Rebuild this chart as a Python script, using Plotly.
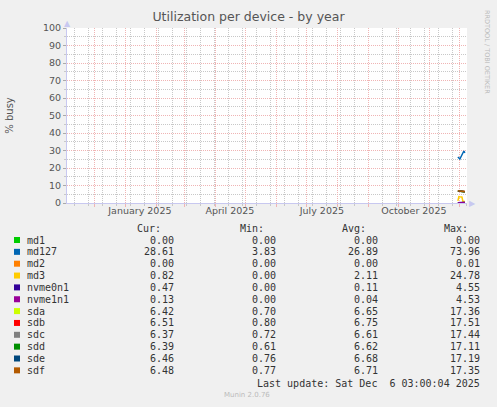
import plotly.graph_objects as go
import pandas as pd

# --- Data ---
dates = ["2025-11-29", "2025-11-30", "2025-12-01", "2025-12-02",
         "2025-12-03", "2025-12-04", "2025-12-05", "2025-12-06"]

devices = ["md1", "md127", "md2", "md3", "nvme0n1", "nvme1n1",
           "sda", "sdb", "sdc", "sdd", "sde", "sdf"]
colors = ["#00CC00", "#0066B3", "#FF8000", "#FFCC00", "#330099", "#990099",
          "#CCFF00", "#FF0000", "#808080", "#008F00", "#00487D", "#B35A00"]

md1 = [0.00, 0.00, 0.00, 0.00, 0.00, 0.00, 0.00, 0.00]
md127 = [26.3, 25.7, 25.1, 26.3, 27.4, 28.6, 29.7, 28.61]
md2 = [0.00, 0.00, 0.00, 0.00, 0.00, 0.00, 0.00, 0.00]
md3 = [1.2, 3.7, 3.6, 3.5, 3.5, 1.0, 0.8, 0.82]
nvme0n1 = [0.10, 0.10, 0.12, 0.10, 0.11, 0.20, 0.45, 0.47]
nvme1n1 = [0.04, 0.03, 0.04, 0.04, 0.05, 0.08, 0.12, 0.13]
sda = [6.9, 6.8, 6.7, 6.8, 6.6, 6.5, 6.4, 6.42]
sdb = [7.0, 6.9, 6.8, 6.8, 6.7, 6.6, 6.5, 6.51]
sdc = [6.9, 6.8, 6.7, 6.7, 6.6, 6.5, 6.4, 6.37]
sdd = [6.9, 6.8, 6.7, 6.7, 6.6, 6.5, 6.4, 6.39]
sde = [6.9, 6.8, 6.8, 6.7, 6.6, 6.5, 6.5, 6.46]
sdf = [7.0, 6.9, 6.8, 6.8, 6.6, 6.5, 6.5, 6.48]
series = [md1, md127, md2, md3, nvme0n1, nvme1n1, sda, sdb, sdc, sdd, sde, sdf]

# legend table values
cur = ["0.00", "28.61", "0.00", "0.82", "0.47", "0.13", "6.42", "6.51", "6.37", "6.39", "6.46", "6.48"]
mins = ["0.00", "3.83", "0.00", "0.00", "0.00", "0.00", "0.70", "0.80", "0.72", "0.61", "0.76", "0.77"]
avgs = ["0.00", "26.89", "0.00", "2.11", "0.11", "0.04", "6.65", "6.75", "6.61", "6.62", "6.68", "6.71"]
maxs = ["0.00", "73.96", "0.01", "24.78", "4.55", "4.53", "17.36", "17.51", "17.44", "17.11", "17.19", "17.35"]

x_start = "2024-11-03 03:00"
x_end = "2025-12-08 03:00"
month_starts = pd.date_range("2024-12-01", "2025-12-01", freq="MS")
label_dates = ["2025-01-15", "2025-04-15", "2025-07-16", "2025-10-16"]
label_text = ["January 2025", "April 2025", "July 2025", "October 2025"]

# --- Geometry (pixels) ---
W, H = 497, 407
L, R, T, B = 67, 467, 28, 203

def px(x):
    return (x - L) / (R - L)

def py(y):
    return (B - y) / (B - T)

MONO = "DejaVu Sans Mono"
SANS = "DejaVu Sans"
TXT = "#555555"
LEG = "#333333"
RED_GRID = "#F0B4B4"
GRAY_GRID = "#C8C8C8"
AXIS = "#C8C8F0"
DAY_MS = 86400000

fig = go.Figure()
for name, vals, col in zip(devices, series, colors):
    fig.add_trace(go.Scatter(x=dates, y=vals, mode="lines", name=name,
                             line=dict(color=col, width=1.5), showlegend=False))

# invisible traces so the overlay axes (month grid, month labels) get drawn
for ax in ["x2", "x3"]:
    fig.add_trace(go.Scatter(x=[x_start, x_end], y=[0, 0], xaxis=ax, mode="lines",
                             line=dict(width=0), hoverinfo="skip", showlegend=False))

fig.update_layout(
    width=W, height=H,
    margin=dict(l=L, r=W - R, t=T, b=H - B, autoexpand=False),
    paper_bgcolor="#F0F0F0",
    plot_bgcolor="white",
    font=dict(family=SANS, color=TXT, size=10),
    title=dict(text="Utilization per device - by year", x=0.5, xanchor="center",
               y=1 - 17 / H, yanchor="middle", font=dict(size=12.5, color=TXT)),
    # fortnightly gray grid
    xaxis=dict(
        type="date", range=[x_start, x_end], automargin=False,
        tick0="2024-11-11", dtick=14 * DAY_MS, showticklabels=False,
        showgrid=True, gridcolor=GRAY_GRID, griddash="1px,1px", gridwidth=1,
        ticks="outside", ticklen=2, tickcolor=GRAY_GRID,
        showline=True, linecolor=AXIS, linewidth=1, zeroline=False,
    ),
    # monthly red grid
    xaxis2=dict(
        type="date", range=[x_start, x_end], overlaying="x", anchor="y", side="bottom",
        automargin=False, tickmode="array", tickvals=month_starts, showticklabels=False,
        showgrid=True, gridcolor=RED_GRID, griddash="1px,1px", gridwidth=1,
        ticks="outside", ticklen=3, tickcolor=RED_GRID, showline=False, zeroline=False,
    ),
    # month labels
    xaxis3=dict(
        type="date", range=[x_start, x_end], overlaying="x", anchor="y", side="bottom",
        automargin=False, tickmode="array", tickvals=label_dates, ticktext=label_text,
        showgrid=False, ticks="", tickfont=dict(size=9.5, color=TXT, family=SANS),
        showline=False, zeroline=False,
    ),
    yaxis=dict(
        range=[0, 100], automargin=False, tickmode="array", tickvals=list(range(0, 101, 10)),
        showgrid=True, gridcolor=RED_GRID, griddash="1px,1px", gridwidth=1,
        ticks="outside", ticklen=3, tickcolor="#AAAAAA",
        tickfont=dict(size=9.5, color=TXT),
        minor=dict(dtick=5, showgrid=True, gridcolor=GRAY_GRID, griddash="1px,1px",
                   ticks="outside", ticklen=2, tickcolor=GRAY_GRID),
        showline=True, linecolor=AXIS, linewidth=1, zeroline=False,
        title=dict(text="% busy", font=dict(size=10, color=TXT), standoff=27),
    ),
)

ann = []
# axis arrows
ann.append(dict(x=px(L), y=py(T - 5), text="▲", showarrow=False,
                font=dict(size=8, color=AXIS), xanchor="center", yanchor="middle"))
ann.append(dict(x=px(R + 5), y=py(B), text="▶", showarrow=False,
                font=dict(size=8, color=AXIS), xanchor="center", yanchor="middle"))
# side watermark
ann.append(dict(x=px(487), y=py(52), text="RRDTOOL / TOBI OETIKER", textangle=90,
                showarrow=False, font=dict(size=6.5, color="#BBBBBB", family=SANS),
                xanchor="center", yanchor="middle"))

# legend table header
for txt, right in zip(["Cur:", "Min:", "Avg:", "Max:"], [163, 266, 368, 470]):
    ann.append(dict(x=px(right), y=py(228), text=txt, showarrow=False,
                    xanchor="right", yanchor="middle",
                    font=dict(family=MONO, size=10, color=LEG)))

shapes = []
row0, step = 240, 11.85
for i, name in enumerate(devices):
    yy = row0 + i * step
    shapes.append(dict(type="rect", xref="paper", yref="paper",
                       x0=px(14), x1=px(20), y0=py(yy + 3), y1=py(yy - 3),
                       fillcolor=colors[i], line=dict(width=0)))
    ann.append(dict(x=px(25), y=py(yy), text=name, showarrow=False, xanchor="left",
                    yanchor="middle", font=dict(family=MONO, size=10, color=LEG)))
    for val, right in zip([cur[i], mins[i], avgs[i], maxs[i]], [176, 278, 380, 482]):
        ann.append(dict(x=px(right), y=py(yy), text=val, showarrow=False,
                        xanchor="right", yanchor="middle",
                        font=dict(family=MONO, size=10, color=LEG)))

ann.append(dict(x=px(482), y=py(383), text="Last update: Sat Dec  6 03:00:04 2025",
                showarrow=False, xanchor="right", yanchor="middle",
                font=dict(family=MONO, size=10, color=LEG)))
ann.append(dict(x=px(247), y=py(395), text="Munin 2.0.76", showarrow=False,
                xanchor="center", yanchor="middle",
                font=dict(family=SANS, size=7, color="#BBBBBB")))

for a in ann:
    a.setdefault("xref", "paper")
    a.setdefault("yref", "paper")

fig.update_layout(annotations=ann, shapes=shapes)

# drop the browser's default page margin so the figure sits at the top-left corner
fig.write_html("out.html", config={"displayModeBar": False},
               post_script="document.body.style.margin='0';")
